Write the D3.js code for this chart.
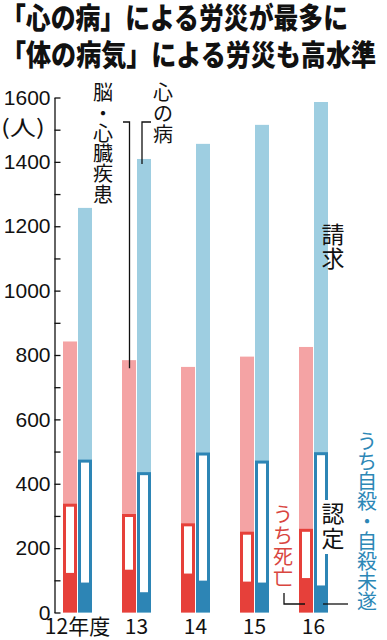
<!DOCTYPE html>
<html>
<head>
<meta charset="utf-8">
<script src="https://cdn.jsdelivr.net/npm/d3@7"></script>
<style>
  body { margin: 0; background: #fff; }
  svg { display: block; }
</style>
</head>
<body>
<div id="chart"></div>
<script>
// data (件数)
const years = ["12年度", "13", "14", "15", "16"];
const heartClaims = [842, 784, 763, 795, 825];      // 脳・心臓疾患 請求
const heartAwarded = [338, 306, 277, 251, 260];     // 認定
const heartDeaths = [123, 133, 121, 96, 107];       // うち死亡
const mentalClaims = [1257, 1409, 1456, 1515, 1586]; // 心の病 請求
const mentalAwarded = [475, 436, 497, 472, 498];     // 認定
const mentalSuicides = [93, 63, 99, 93, 84];         // うち自殺・自殺未遂
const yTicks = [0, 200, 400, 600, 800, 1000, 1200, 1400, 1600];

const width = 387, height = 640;
const jp = "'Noto Sans CJK JP', 'Noto Sans', sans-serif";
const num = "'Liberation Sans', Arial, sans-serif";

const col = {
    pink: "#f4a3a4",
    red: "#e6403a",
    redLine: "#d9463f",
    sky: "#9ecee1",
    blue: "#2d85b5",
    blueText: "#2c87b6"
};

const svg = d3.select("#chart").append("svg")
    .attr("width", width)
    .attr("height", height);

svg.append("rect").attr("width", width).attr("height", height).attr("fill", "#fff");

// title
const titleLines = ["「心の病」による労災が最多に", "「体の病気」による労災も高水準"];
const titleLen = [347, 375];
titleLines.forEach((t, i) => {
    svg.append("text")
        .attr("x", 1)
        .attr("y", 29 + i * 37)
        .attr("font-family", jp)
        .attr("font-weight", 900)
        .attr("font-size", 29)
        .attr("textLength", titleLen[i])
        .attr("lengthAdjust", "spacingAndGlyphs")
        .attr("fill", "#111")
        .text(t);
});

// scales
const y = d3.scaleLinear().domain([0, 1600]).range([612.5, 97.5]);
const x = d3.scalePoint().domain(years).range([77.5, 313.5]);
const barW = 14, border = 3;

// y axis: ticks point inward, labels on the left
svg.append("g")
    .attr("transform", "translate(54.5,0)")
    .call(d3.axisRight(y).tickValues(d3.range(0, 1601, 100)).tickSize(6).tickSizeOuter(0).tickFormat(""))
    .call(g => g.select(".domain").attr("stroke", "#111").attr("stroke-width", 1.3))
    .call(g => g.selectAll(".tick line").attr("stroke", "#111").attr("stroke-width", 1.3));

svg.append("g")
    .attr("transform", "translate(54.5,0)")
    .call(d3.axisLeft(y).tickValues(yTicks).tickFormat(d3.format("d")).tickSize(0).tickPadding(4))
    .call(g => g.select(".domain").remove())
    .call(g => g.selectAll(".tick text")
        .attr("font-family", num)
        .attr("font-size", 21)
        .attr("fill", "#111"));

svg.append("text")
    .attr("x", 1)
    .attr("y", 135)
    .attr("font-family", jp)
    .attr("font-size", 21)
    .attr("textLength", 44)
    .attr("lengthAdjust", "spacingAndGlyphs")
    .attr("fill", "#111")
    .text("(人)");

// x labels
svg.append("g")
    .selectAll("text")
    .data(years)
    .join("text")
    .attr("x", d => x(d))
    .attr("y", 634)
    .attr("text-anchor", "middle")
    .attr("font-family", jp)
    .attr("font-size", 21)
    .attr("fill", "#111")
    .text(d => d);

// build the stacked "claim / awarded / fatal" bar for one series
function drawSeries(claims, awarded, inner, dx, light, dark) {
    const g = svg.append("g");
    const rows = years.map((yr, i) => ({yr, c: claims[i], a: awarded[i], n: inner[i]}));

    g.selectAll(".claim").data(rows).join("rect")
        .attr("x", d => x(d.yr) + dx)
        .attr("y", d => y(d.c))
        .attr("width", barW)
        .attr("height", d => y(0) - y(d.c))
        .attr("fill", light);

    g.selectAll(".award").data(rows).join("rect")
        .attr("x", d => x(d.yr) + dx)
        .attr("y", d => y(d.a))
        .attr("width", barW)
        .attr("height", d => y(0) - y(d.a))
        .attr("fill", dark);

    g.selectAll(".hollow").data(rows).join("rect")
        .attr("x", d => x(d.yr) + dx + border)
        .attr("y", d => y(d.a) + border)
        .attr("width", barW - 2 * border)
        .attr("height", d => y(d.n) - y(d.a) - border)
        .attr("fill", "#fff");
}

drawSeries(heartClaims, heartAwarded, heartDeaths, -14.5, col.pink, col.red);
drawSeries(mentalClaims, mentalAwarded, mentalSuicides, 0.5, col.sky, col.blue);

// vertical text helper: one glyph per line
function vtext(str, cx, top, fs, step, color, bg) {
    const chars = Array.from(str);
    if (bg) {
        svg.append("rect")
            .attr("x", cx - fs / 2 - 1)
            .attr("y", top - 2)
            .attr("width", fs + 2)
            .attr("height", chars.length * step + 4)
            .attr("fill", "#fff");
    }
    const t = svg.append("text")
        .attr("font-family", jp)
        .attr("font-size", fs)
        .attr("fill", color)
        .attr("text-anchor", "middle");
    chars.forEach((ch, i) => {
        t.append("tspan")
            .attr("x", cx)
            .attr("y", top + i * step + fs * 0.86)
            .text(ch);
    });
}

// leader lines
const leader = d => svg.append("path")
    .attr("d", d)
    .attr("fill", "none")
    .attr("stroke", "#111")
    .attr("stroke-width", 1.3);

leader(`M123,122H${x("13") - 7}V${y(784) + 8}`);
leader(`M151,122H${x("13") + 5.5}V${y(1409) + 5}`);
leader(`M284,593V${y(0) - 8.5}H${x("16") - 8.5}`);
leader(`M${x("16") + 9.5},${y(0) - 8.5}H348`);

vtext("脳・心臓疾患", 103, 83, 20, 20.3, "#111");
vtext("心の病", 163, 83, 20, 20.7, "#111");
vtext("請求", 333, 223, 23, 24.5, "#111");
vtext("認定", 333, 502, 23, 25, "#111", true);
vtext("うち死亡", 283, 505, 20, 20.8, col.redLine);
vtext("うち自殺・自殺未遂", 367, 432, 20, 20, col.blueText);
</script>
</body>
</html>
